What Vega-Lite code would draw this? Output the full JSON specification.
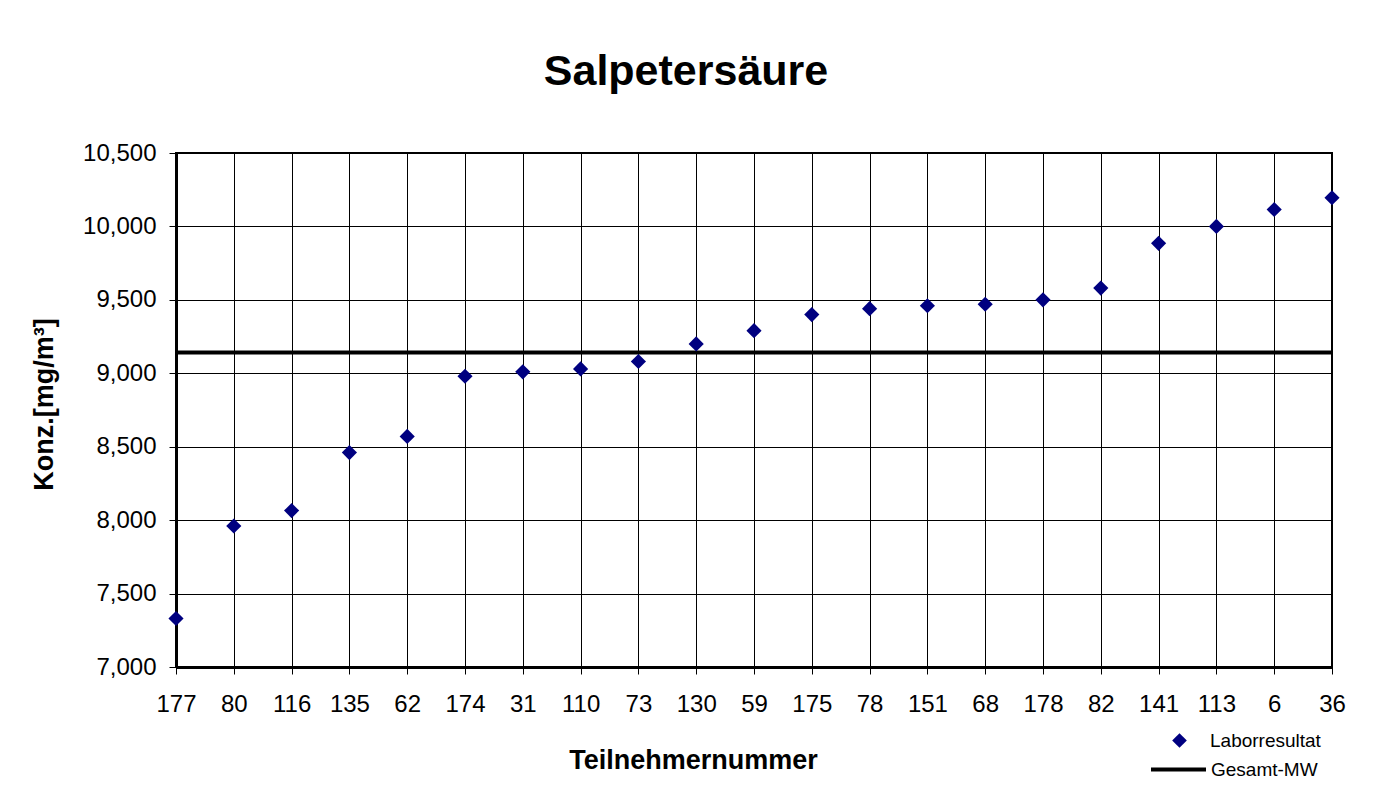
{
  "$schema": "https://vega.github.io/schema/vega-lite/v6.json",
  "width": 1156,
  "height": 514,
  "autosize": {"type": "none"},
  "padding": {"left": 176, "top": 153, "right": 42, "bottom": 124},
  "background": "white",
  "title": {
    "text": "Salpetersäure",
    "font": "Liberation Sans",
    "fontSize": 43,
    "fontWeight": "bold",
    "color": "black",
    "anchor": "middle",
    "frame": "group",
    "dx": -68,
    "offset": 13,
    "baseline": "alphabetic"
  },
  "config": {
    "font": "Liberation Sans",
    "view": {"stroke": "black", "strokeWidth": 2},
    "axis": {
      "labelFont": "Liberation Sans",
      "titleFont": "Liberation Sans",
      "labelColor": "black",
      "titleColor": "black",
      "gridColor": "black",
      "gridOpacity": 1,
      "gridWidth": 1,
      "tickColor": "black",
      "tickWidth": 1,
      "tickSize": 7,
      "domainColor": "black",
      "domainWidth": 3
    },
    "legend": {"labelFont": "Liberation Sans", "labelColor": "black"}
  },
  "layer": [
    {
      "data": {"values": [{"mw": 9141, "series": "Gesamt-MW"}]},
      "mark": {"type": "rule", "strokeWidth": 4},
      "encoding": {
        "y": {"field": "mw", "type": "quantitative"},
        "color": {
          "field": "series",
          "type": "nominal",
          "scale": {"range": ["black"]},
          "legend": {
            "orient": "none",
            "legendX": 973,
            "legendY": 587,
            "title": null,
            "padding": 0,
            "symbolType": "stroke",
            "symbolSize": 3025,
            "symbolStrokeWidth": 4,
            "symbolStrokeColor": "black",
            "labelOffset": 3,
            "labelFontSize": 19
          }
        }
      }
    },
    {
      "data": {
        "values": [
          {"nr": "177", "wert": 7330, "series": "Laborresultat"},
          {"nr": "80", "wert": 7960, "series": "Laborresultat"},
          {"nr": "116", "wert": 8065, "series": "Laborresultat"},
          {"nr": "135", "wert": 8460, "series": "Laborresultat"},
          {"nr": "62", "wert": 8570, "series": "Laborresultat"},
          {"nr": "174", "wert": 8980, "series": "Laborresultat"},
          {"nr": "31", "wert": 9010, "series": "Laborresultat"},
          {"nr": "110", "wert": 9030, "series": "Laborresultat"},
          {"nr": "73", "wert": 9080, "series": "Laborresultat"},
          {"nr": "130", "wert": 9200, "series": "Laborresultat"},
          {"nr": "59", "wert": 9290, "series": "Laborresultat"},
          {"nr": "175", "wert": 9400, "series": "Laborresultat"},
          {"nr": "78", "wert": 9440, "series": "Laborresultat"},
          {"nr": "151", "wert": 9460, "series": "Laborresultat"},
          {"nr": "68", "wert": 9470, "series": "Laborresultat"},
          {"nr": "178", "wert": 9500, "series": "Laborresultat"},
          {"nr": "82", "wert": 9580, "series": "Laborresultat"},
          {"nr": "141", "wert": 9885, "series": "Laborresultat"},
          {"nr": "113", "wert": 10000, "series": "Laborresultat"},
          {"nr": "6", "wert": 10115, "series": "Laborresultat"},
          {"nr": "36", "wert": 10195, "series": "Laborresultat"}
        ]
      },
      "mark": {"type": "point", "shape": "diamond", "filled": true, "color": "#000080", "size": 230, "opacity": 1},
      "encoding": {
        "x": {
          "field": "nr",
          "type": "nominal",
          "sort": null,
          "scale": {"type": "point", "padding": 0},
          "axis": {
            "title": "Teilnehmernummer",
            "titleFontSize": 27,
            "titleFontWeight": "bold",
            "titleX": 517,
            "titleY": 101,
            "titleBaseline": "alphabetic",
            "titleAlign": "center",
            "labelAngle": 0,
            "labelFontSize": 24,
            "labelPadding": 18,
            "grid": true
          }
        },
        "y": {
          "field": "wert",
          "type": "quantitative",
          "scale": {"domain": [7000, 10500], "nice": false, "zero": false},
          "axis": {
            "title": "Konz.[mg/m³]",
            "titleFontSize": 27,
            "titleFontWeight": "bold",
            "titleX": -132,
            "titleY": 251,
            "titleAlign": "center",
            "titleBaseline": "middle",
            "titleAngle": -90,
            "values": [7000, 7500, 8000, 8500, 9000, 9500, 10000, 10500],
            "format": ",.0f",
            "labelFontSize": 24,
            "labelPadding": 13,
            "grid": true
          }
        },
        "shape": {
          "field": "series",
          "type": "nominal",
          "scale": {"range": ["diamond"]},
          "legend": {
            "orient": "none",
            "legendX": 994,
            "legendY": 578,
            "title": null,
            "padding": 0,
            "symbolSize": 215,
            "symbolFillColor": "#000080",
            "symbolStrokeColor": "#000080",
            "symbolStrokeWidth": 0,
            "labelOffset": 21,
            "labelFontSize": 19
          }
        }
      }
    }
  ]
}
